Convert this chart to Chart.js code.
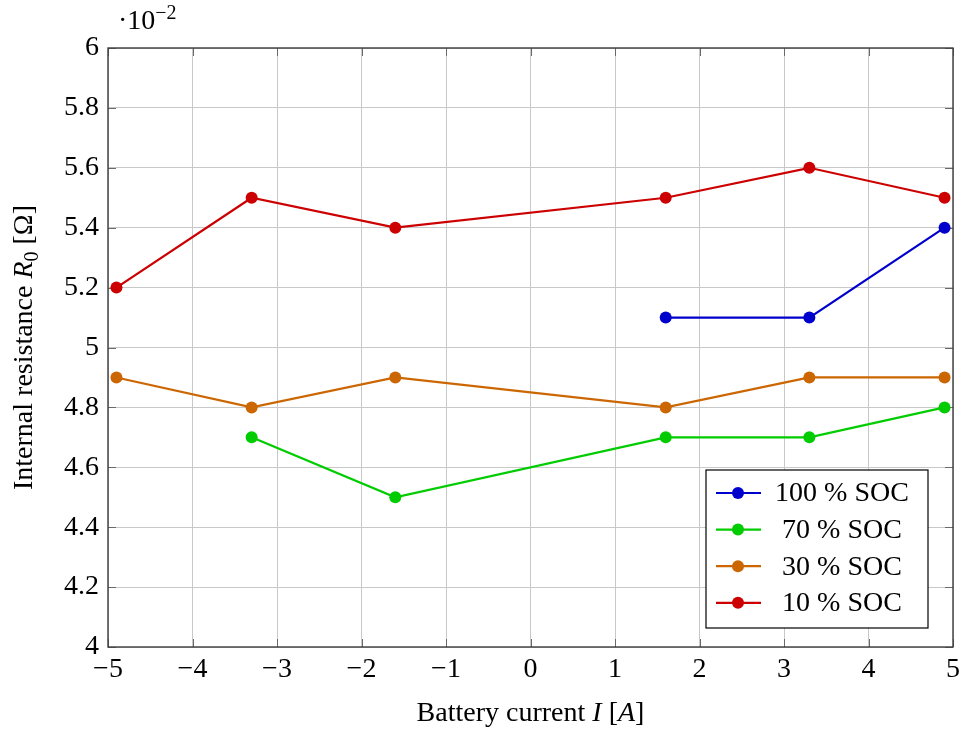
<!DOCTYPE html>
<html>
<head>
<meta charset="utf-8">
<script src="https://cdn.jsdelivr.net/npm/chart.js@4/dist/chart.umd.min.js"></script>
<style>
html, body { margin: 0; padding: 0; background: #fff; }
#wrap { width: 966px; height: 734px; }
</style>
</head>
<body>
<div id="wrap"><canvas id="resistanceChart"></canvas></div>
<script>
// Internal resistance R0 vs battery current (R0 in units of 1e-2 ohm)
const current100 = [1.6, 3.3, 4.9];
const r100 = [5.1, 5.1, 5.4];
const current70 = [-3.3, -1.6, 1.6, 3.3, 4.9];
const r70 = [4.7, 4.5, 4.7, 4.7, 4.8];
const current30 = [-4.9, -3.3, -1.6, 1.6, 3.3, 4.9];
const r30 = [4.9, 4.8, 4.9, 4.8, 4.9, 4.9];
const current10 = [-4.9, -3.3, -1.6, 1.6, 3.3, 4.9];
const r10 = [5.2, 5.5, 5.4, 5.5, 5.6, 5.5];

const socLabels = ['100 % SOC', '70 % SOC', '30 % SOC', '10 % SOC'];
const socColors = ['rgb(0,0,204)', 'rgb(0,204,0)', 'rgb(204,102,0)', 'rgb(204,0,0)'];

const xTicks = [-5, -4, -3, -2, -1, 0, 1, 2, 3, 4, 5];
const yTicks = [4, 4.2, 4.4, 4.6, 4.8, 5, 5.2, 5.4, 5.6, 5.8, 6];

const FONT = "'Liberation Serif', 'DejaVu Serif', serif";
const FS = 28;

function pairs(xs, ys) {
    return xs.map((x, i) => ({ x: x, y: ys[i] }));
}

function fmtNum(v) {
    const s = String(Math.round(v * 10) / 10);
    return s.replace('-', '\u2212');
}

// draw a run of text pieces, each may be italic / sub / sup
function drawRich(ctx, parts, x, y, align) {
    const measured = parts.map(p => {
        const size = (p.sub || p.sup) ? Math.round(FS * 0.7) : FS;
        const font = (p.italic ? 'italic ' : '') + size + 'px ' + FONT;
        ctx.font = font;
        return { p: p, font: font, w: ctx.measureText(p.text).width };
    });
    const total = measured.reduce((a, m) => a + m.w, 0);
    let cx = align === 'center' ? x - total / 2 : x;
    ctx.textAlign = 'left';
    ctx.textBaseline = 'alphabetic';
    measured.forEach(m => {
        ctx.font = m.font;
        let dy = 0;
        if (m.p.sub) dy = 6;
        if (m.p.sup) dy = -10;
        ctx.fillText(m.p.text, cx, y + dy);
        cx += m.w;
    });
}

const framePlugin = {
    id: 'frame',
    beforeDatasetsDraw(chart) {
        const ctx = chart.ctx;
        const a = chart.chartArea;
        const xs = chart.scales.x, ys = chart.scales.y;
        ctx.save();
        // inward tick marks on all four sides
        ctx.strokeStyle = '#6a6a6a';
        ctx.lineWidth = 1;
        const tl = 8;
        ctx.beginPath();
        xTicks.forEach(v => {
            const px = Math.round(xs.getPixelForValue(v)) + 0.5;
            ctx.moveTo(px, a.bottom); ctx.lineTo(px, a.bottom - tl);
            ctx.moveTo(px, a.top); ctx.lineTo(px, a.top + tl);
        });
        yTicks.forEach(v => {
            const py = Math.round(ys.getPixelForValue(v)) + 0.5;
            ctx.moveTo(a.left, py); ctx.lineTo(a.left + tl, py);
            ctx.moveTo(a.right, py); ctx.lineTo(a.right - tl, py);
        });
        ctx.stroke();
        ctx.restore();
    },
    afterDraw(chart) {
        const ctx = chart.ctx;
        const a = chart.chartArea;
        ctx.save();
        // frame
        ctx.strokeStyle = '#3c3c3c';
        ctx.lineWidth = 1.4;
        ctx.strokeRect(a.left, a.top, a.right - a.left, a.bottom - a.top);

        ctx.fillStyle = '#000';
        // multiplier label
        drawRich(ctx, [{ text: '\u00b710' }, { text: '\u22122', sup: true }], a.left + 10, a.top - 19, 'left');

        // x axis title
        drawRich(ctx, [
            { text: 'Battery current ' }, { text: 'I', italic: true },
            { text: ' [' }, { text: 'A', italic: true }, { text: ']' }
        ], (a.left + a.right) / 2, 721, 'center');

        // y axis title (rotated)
        ctx.save();
        ctx.translate(32, (a.top + a.bottom) / 2);
        ctx.rotate(-Math.PI / 2);
        drawRich(ctx, [
            { text: 'Internal resistance ' }, { text: 'R', italic: true },
            { text: '0', sub: true }, { text: ' [\u03a9]' }
        ], 0, 0, 'center');
        ctx.restore();

        // legend box
        const bw = 222, bh = 158;
        const bx = a.right - 25 - bw, by = a.bottom - 19 - bh;
        ctx.fillStyle = '#fff';
        ctx.fillRect(bx, by, bw, bh);
        ctx.strokeStyle = '#000';
        ctx.lineWidth = 1.2;
        ctx.strokeRect(bx, by, bw, bh);
        chart.data.datasets.forEach((ds, i) => {
            const cy = by + 23 + i * 36.6;
            ctx.strokeStyle = ds.borderColor;
            ctx.lineWidth = 2.2;
            ctx.beginPath();
            ctx.moveTo(bx + 10, cy); ctx.lineTo(bx + 55, cy);
            ctx.stroke();
            ctx.fillStyle = ds.borderColor;
            ctx.beginPath();
            ctx.arc(bx + 32, cy, 6, 0, Math.PI * 2);
            ctx.fill();
            ctx.fillStyle = '#000';
            ctx.font = FS + 'px ' + FONT;
            ctx.textAlign = 'center';
            ctx.textBaseline = 'middle';
            ctx.fillText(ds.label, bx + 62 + (bw - 62) / 2 - 6, cy + 1);
        });
        ctx.restore();
    }
};

const series = [pairs(current100, r100), pairs(current70, r70), pairs(current30, r30), pairs(current10, r10)];

new Chart(document.getElementById('resistanceChart'), {
    type: 'line',
    data: {
        datasets: series.map((pts, i) => ({
            label: socLabels[i],
            data: pts,
            borderColor: socColors[i],
            backgroundColor: socColors[i],
            pointBackgroundColor: socColors[i],
            pointBorderWidth: 0,
            pointRadius: 6,
            borderWidth: 2.2,
            tension: 0,
            fill: false
        }))
    },
    options: {
        responsive: true,
        maintainAspectRatio: false,
        animation: false,
        layout: { padding: { top: 48, right: 13, left: 0, bottom: 0 } },
        plugins: {
            legend: { display: false },
            tooltip: { enabled: false }
        },
        scales: {
            x: {
                type: 'linear',
                min: -5,
                max: 5,
                afterBuildTicks: s => { s.ticks = xTicks.map(v => ({ value: v })); },
                afterFit: s => { s.height = 87; s.paddingLeft = 0; s.paddingRight = 0; },
                grid: { color: '#c8c8c8', lineWidth: 1, drawTicks: false },
                border: { display: false },
                ticks: {
                    padding: 6,
                    maxRotation: 0,
                    autoSkip: false,
                    color: '#000',
                    font: { family: FONT, size: FS },
                    callback: v => fmtNum(v)
                }
            },
            y: {
                type: 'linear',
                min: 4,
                max: 6,
                afterBuildTicks: s => { s.ticks = yTicks.map(v => ({ value: v })); },
                afterFit: s => { s.width = 108; s.paddingTop = 0; s.paddingBottom = 0; },
                grid: { color: '#c8c8c8', lineWidth: 1, drawTicks: false },
                border: { display: false },
                ticks: {
                    padding: 9,
                    autoSkip: false,
                    color: '#000',
                    font: { family: FONT, size: FS },
                    callback: v => fmtNum(v)
                }
            }
        }
    },
    plugins: [framePlugin]
});
</script>
</body>
</html>
